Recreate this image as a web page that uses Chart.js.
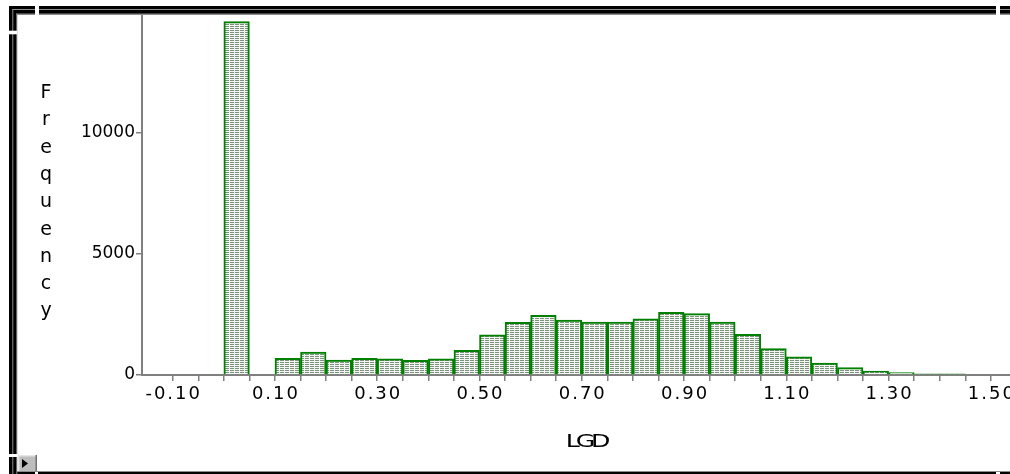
<!DOCTYPE html>
<html>
<head>
<meta charset="utf-8">
<script src="https://cdn.jsdelivr.net/npm/chart.js@4.4.1/dist/chart.umd.min.js"></script>
<style>
  html, body { margin: 0; padding: 0; background: #fff; overflow: hidden; }
  #wrap { position: relative; width: 1060px; height: 474px; }
</style>
</head>
<body>
<div id="wrap"><canvas id="chart" width="1060" height="474"></canvas></div>
<script>
// lower edge of each 0.05 wide LGD bin
const binStarts = [0.00, 0.10, 0.15, 0.20, 0.25, 0.30, 0.35, 0.40, 0.45, 0.50,
                   0.55, 0.60, 0.65, 0.70, 0.75, 0.80, 0.85, 0.90, 0.95, 1.00,
                   1.05, 1.10, 1.15, 1.20, 1.25, 1.30, 1.35, 1.40];
const frequency = [14600, 690, 950, 620, 690, 673, 607, 673, 1020, 1665,
                   2178, 2467, 2273, 2190, 2190, 2326, 2591, 2533, 2190, 1682,
                   1087, 752, 496, 302, 165, 95, 45, 45];
const binWidth = 0.05;

const xTickMarks = [-0.10, -0.05, 0.00, 0.05, 0.10, 0.15, 0.20, 0.25, 0.30, 0.35,
                    0.40, 0.45, 0.50, 0.55, 0.60, 0.65, 0.70, 0.75, 0.80, 0.85,
                    0.90, 0.95, 1.00, 1.05, 1.10, 1.15, 1.20, 1.25, 1.30, 1.35,
                    1.40, 1.45, 1.50];
const xTickLabels = [-0.10, 0.10, 0.30, 0.50, 0.70, 0.90, 1.10, 1.30, 1.50];
const yTicks = [0, 5000, 10000];
const yTitle = 'Frequency';
const xTitle = 'LGD';

const FONT = 'DejaVu Sans';

function hatch() {
    const c = document.createElement('canvas');
    c.width = 5;
    c.height = 2;
    const g = c.getContext('2d');
    g.fillStyle = '#f4f4f4';
    g.fillRect(0, 0, 5, 2);
    g.fillStyle = '#7a937a';
    g.fillRect(0, 0, 4, 1);
    return g.createPattern(c, 'repeat');
}

// old style window frame + hand drawn axis texts
const decorations = {
    id: 'decorations',
    afterDraw(chart) {
        const ctx = chart.ctx;
        const x = chart.scales.x;
        const W = chart.width;

        ctx.save();
        // x tick labels, spaced out like the original
        ctx.fillStyle = '#000';
        ctx.font = '18px "' + FONT + '"';
        ctx.letterSpacing = '2px';
        ctx.textAlign = 'center';
        ctx.textBaseline = 'alphabetic';
        for (const v of xTickLabels) {
            ctx.fillText(v.toFixed(2), x.getPixelForValue(v) + 1, 399);
        }

        // LGD, squeezed together
        ctx.save();
        ctx.font = '18px "' + FONT + '"';
        ctx.letterSpacing = '-3px';
        ctx.translate(586, 447);
        ctx.scale(1.4, 1);
        ctx.fillText(xTitle, 0, 0);
        ctx.restore();

        // vertical Frequency, one letter under the other
        ctx.letterSpacing = '0px';
        ctx.font = '19px "' + FONT + '"';
        [...yTitle].forEach((ch, i) => {
            ctx.fillText(ch, 46, 98 + i * 27.3);
        });

        // frame
        ctx.fillStyle = '#000';
        ctx.fillRect(9, 6, W, 9);
        ctx.fillRect(9, 6, 8, 474);
        ctx.fillRect(9, 471, W, 3);
        ctx.fillStyle = '#8c8c8c';
        ctx.fillRect(12.3, 9, W, 1);
        ctx.fillRect(12.3, 9, 1, 474);
        ctx.fillRect(16.3, 13.5, W, 1.5);
        ctx.fillRect(16.3, 13.5, 1, 474);
        ctx.fillRect(17, 471, W, 1);

        ctx.fillStyle = '#fff';
        ctx.fillRect(35, 6, 4, 9);
        ctx.fillRect(996, 6, 4, 9);
        ctx.fillRect(9, 30.7, 8, 3.6);
        ctx.fillRect(9, 454, 9, 3);
        ctx.fillRect(35, 472, 3, 2);
        ctx.fillRect(996, 472, 4, 2);

        // little scroll button bottom left
        ctx.fillStyle = '#bdbdbd';
        ctx.fillRect(18, 455, 19, 16);
        ctx.fillStyle = '#e6e6e6';
        ctx.fillRect(18, 455, 19, 1.5);
        ctx.fillRect(18, 455, 1.5, 16);
        ctx.fillStyle = '#707070';
        ctx.fillRect(35.5, 455, 1.5, 16);
        ctx.fillStyle = '#000';
        ctx.beginPath();
        ctx.moveTo(22, 459);
        ctx.lineTo(22, 468);
        ctx.lineTo(28, 463.5);
        ctx.closePath();
        ctx.fill();
        ctx.restore();
    }
};

new Chart(document.getElementById('chart'), {
    type: 'bar',
    data: {
        datasets: [{
            label: 'Frequency',
            data: binStarts.map((b, i) => ({ x: b + binWidth / 2, y: frequency[i] })),
            backgroundColor: hatch(),
            borderColor: '#008000',
            borderWidth: 2,
            barPercentage: 1,
            categoryPercentage: 1,
        }],
    },
    options: {
        responsive: false,
        animation: false,
        layout: {
            padding: { left: 0, top: 12, right: 18, bottom: 0 },
        },
        plugins: {
            legend: { display: false },
            tooltip: { enabled: false },
        },
        scales: {
            x: {
                type: 'linear',
                min: -0.16,
                max: 1.60,
                offset: false,
                afterBuildTicks: (s) => { s.ticks = xTickMarks.map((v) => ({ value: v })); },
                afterFit: (s) => { s.height = 99; },
                grid: {
                    offset: false,
                    drawOnChartArea: false,
                    drawTicks: true,
                    tickLength: 6,
                    color: '#808080',
                    lineWidth: 1.5,
                },
                border: { color: '#808080', width: 2 },
                ticks: { display: false },
            },
            y: {
                min: 0,
                max: 15000,
                afterBuildTicks: (s) => { s.ticks = yTicks.map((v) => ({ value: v })); },
                afterFit: (s) => { s.width = 142; },
                grid: {
                    drawOnChartArea: false,
                    drawTicks: true,
                    tickLength: 6,
                    color: '#808080',
                    lineWidth: 1.5,
                },
                border: { color: '#808080', width: 2 },
                ticks: {
                    color: '#000',
                    font: { family: FONT, size: 17 },
                    padding: 1,
                    callback: (v) => String(v),
                },
            },
        },
    },
    plugins: [decorations],
});
</script>
</body>
</html>
